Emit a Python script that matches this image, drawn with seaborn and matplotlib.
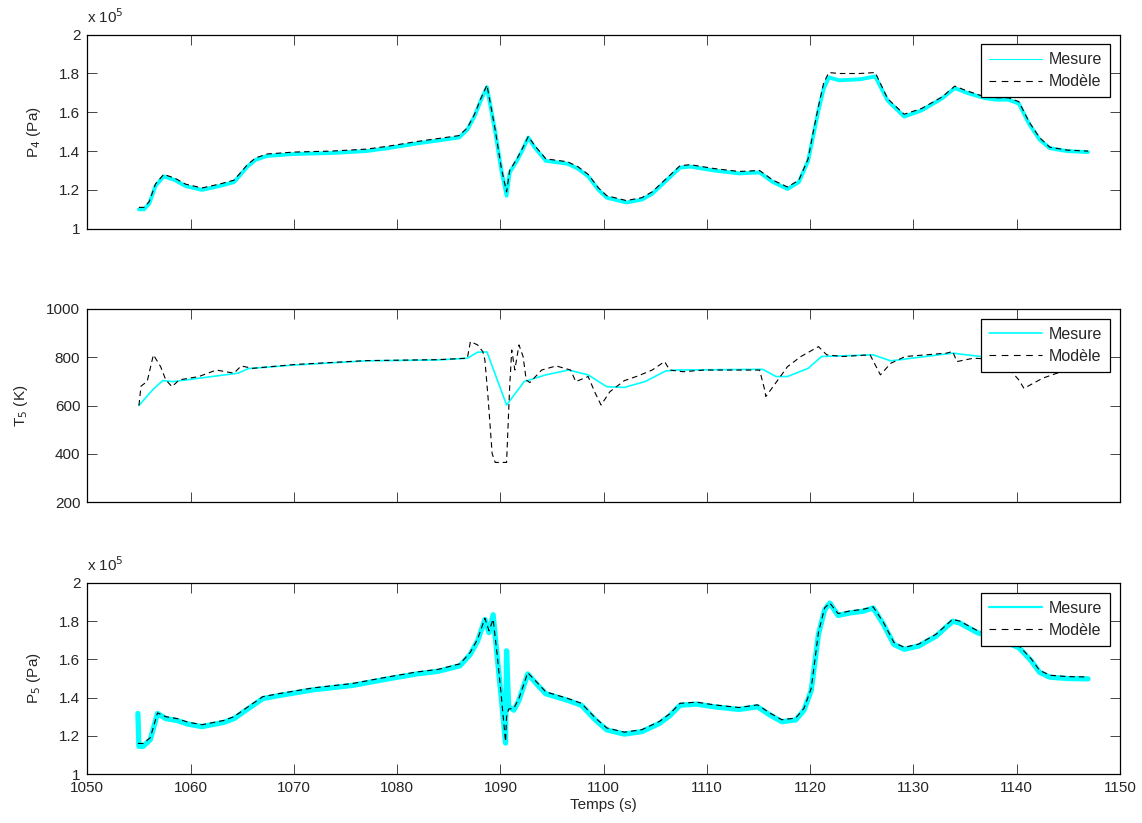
import numpy as np
import pandas as pd
import seaborn as sns
import matplotlib.pyplot as plt
from matplotlib.lines import Line2D
from matplotlib.ticker import FuncFormatter

# ---------------------------------------------------------------------------
# P4 (x 1e5 Pa): measured and model, read off the figure
p4_t = [1055.0, 1055.5, 1056.0, 1056.6, 1057.4, 1058.5, 1059.5, 1061.1, 1062.8, 1064.2, 1064.7,
        1065.5, 1066.3, 1067.4, 1070.0, 1073.6, 1077.0, 1079.1, 1082.0, 1084.0, 1086.0, 1086.8,
        1087.5, 1088.1, 1088.7, 1089.5, 1090.1, 1090.6, 1090.9, 1091.6, 1092.1, 1092.7, 1093.3,
        1094.4, 1096.5, 1097.5, 1098.5, 1099.5, 1100.3, 1102.2, 1103.7, 1104.7, 1106.4, 1107.4,
        1108.4, 1110.7, 1113.1, 1115.1, 1116.4, 1117.8, 1118.9, 1119.8, 1120.3, 1120.8, 1121.3,
        1121.8, 1122.8, 1124.8, 1126.3, 1127.5, 1129.1, 1130.8, 1132.8, 1134.0, 1135.2, 1136.9,
        1138.0, 1139.2, 1140.2, 1141.2, 1142.2, 1143.2, 1144.9, 1146.9]
p4_mesure = [1.10, 1.10, 1.13, 1.22, 1.27, 1.25, 1.22, 1.20, 1.22, 1.24, 1.27,
             1.32, 1.355, 1.375, 1.385, 1.39, 1.40, 1.415, 1.44, 1.455, 1.47, 1.51,
             1.58, 1.66, 1.73, 1.50, 1.30, 1.17, 1.29, 1.35, 1.40, 1.47, 1.42,
             1.35, 1.335, 1.31, 1.27, 1.20, 1.16, 1.135, 1.15, 1.18, 1.265, 1.315,
             1.32, 1.30, 1.285, 1.29, 1.24, 1.205, 1.24, 1.35, 1.48, 1.61, 1.72,
             1.78, 1.765, 1.77, 1.785, 1.66, 1.578, 1.61, 1.673, 1.725, 1.70, 1.673,
             1.665, 1.665, 1.645, 1.54, 1.46, 1.415, 1.40, 1.395]
p4_modele = [1.11, 1.11, 1.14, 1.23, 1.28, 1.26, 1.23, 1.21, 1.23, 1.25, 1.28,
             1.33, 1.365, 1.385, 1.395, 1.40, 1.41, 1.425, 1.45, 1.465, 1.48, 1.52,
             1.59, 1.67, 1.74, 1.51, 1.31, 1.19, 1.30, 1.36, 1.41, 1.475, 1.43,
             1.36, 1.345, 1.32, 1.28, 1.21, 1.17, 1.145, 1.16, 1.19, 1.275, 1.325,
             1.33, 1.31, 1.295, 1.30, 1.25, 1.215, 1.25, 1.36, 1.50, 1.63, 1.75,
             1.805, 1.80, 1.80, 1.805, 1.67, 1.59, 1.62, 1.68, 1.735, 1.71, 1.68,
             1.675, 1.675, 1.655, 1.55, 1.47, 1.42, 1.405, 1.40]

# T5 (K): measured
t5_t_mes = [1055.0, 1056.3, 1057.3, 1058.3, 1060.8, 1064.6, 1065.6, 1070.1, 1077.0, 1084.0,
            1086.8, 1087.8, 1088.7, 1090.6, 1092.3, 1094.4, 1096.6, 1098.5, 1100.3, 1102.0,
            1104.0, 1106.0, 1107.0, 1115.4, 1116.7, 1117.8, 1119.8, 1121.1, 1126.1, 1127.8,
            1129.8, 1133.8, 1136.5, 1140.0, 1143.0, 1147.0]
t5_mesure = [600, 664, 703, 699, 713, 734, 753, 768, 785, 789,
             796, 821, 822, 602, 699, 727, 747, 727, 678, 675,
             699, 743, 747, 750, 720, 720, 754, 803, 810, 785,
             796, 817, 803, 800, 798, 795]

# T5 (K): model
t5_t_mod = [1055.0, 1055.2, 1055.8, 1056.4, 1057.1, 1057.6, 1058.2, 1058.9, 1060.8, 1062.5,
            1064.2, 1064.9, 1066.0, 1070.1, 1077.0, 1084.0, 1086.8, 1087.1, 1087.8, 1088.3,
            1088.5, 1088.8, 1089.2, 1089.5, 1090.6, 1090.7, 1090.9, 1091.1, 1091.4, 1091.8,
            1092.2, 1092.5, 1092.85, 1094.0, 1095.4, 1096.8, 1097.3, 1098.5, 1099.2, 1099.75,
            1100.6, 1102.0, 1103.35, 1104.7, 1105.9, 1106.4, 1107.7, 1109.7, 1115.1, 1115.6,
            1115.7, 1116.4, 1117.8, 1119.1, 1120.8, 1121.6, 1123.1, 1125.8, 1126.3, 1126.8,
            1127.8, 1129.2, 1133.2, 1133.8, 1134.2, 1135.8, 1138.5, 1140.2, 1140.7, 1142.5,
            1143.9, 1147.0]
t5_modele = [600, 680, 700, 810, 761, 706, 678, 706, 720, 747,
             734, 764, 754, 770, 786, 790, 796, 865, 851, 823,
             789, 637, 401, 364, 364, 471, 678, 830, 747, 851,
             803, 706, 695, 747, 764, 747, 699, 720, 650, 602,
             657, 703, 723, 747, 782, 747, 740, 747, 747, 664,
             637, 678, 761, 803, 844, 810, 803, 810, 768, 727,
             775, 803, 817, 824, 782, 796, 790, 706, 671, 713,
             734, 755]

# P5 (x 1e5 Pa): measured and model
p5_t = [1054.9, 1055.0, 1055.4, 1056.1, 1056.8, 1057.6, 1058.7, 1059.7, 1061.1, 1063.2,
        1064.2, 1065.6, 1067.0, 1068.7, 1071.9, 1075.7, 1079.1, 1081.9, 1084.0, 1086.1,
        1087.1, 1087.8, 1088.5, 1088.9, 1089.3, 1089.7, 1090.05, 1090.5, 1090.6, 1090.8,
        1091.3, 1091.8, 1092.65, 1093.5, 1094.4, 1096.5, 1097.85, 1099.2, 1100.3, 1102.0,
        1103.7, 1105.4, 1106.4, 1107.4, 1109.0, 1110.7, 1113.1, 1114.9, 1116.1, 1117.25,
        1118.6, 1119.4, 1120.1, 1120.8, 1121.4, 1121.9, 1122.7, 1123.8, 1125.1, 1126.1,
        1127.1, 1128.1, 1129.1, 1130.5, 1132.2, 1133.8, 1134.5, 1136.2, 1138.0, 1140.2,
        1141.4, 1142.2, 1143.2, 1144.9, 1146.9]
p5_mesure = [1.317, 1.145, 1.145, 1.18, 1.317, 1.29, 1.28, 1.262, 1.248, 1.27,
             1.29, 1.343, 1.395, 1.412, 1.441, 1.464, 1.498, 1.524, 1.538, 1.567,
             1.628, 1.697, 1.809, 1.74, 1.834, 1.61, 1.42, 1.162, 1.645, 1.352,
             1.334, 1.386, 1.524, 1.472, 1.42, 1.386, 1.36, 1.283, 1.231, 1.209,
             1.222, 1.265, 1.305, 1.36, 1.366, 1.352, 1.338, 1.352, 1.309, 1.274,
             1.283, 1.334, 1.438, 1.731, 1.86, 1.895, 1.83, 1.843, 1.852, 1.869,
             1.783, 1.679, 1.653, 1.67, 1.722, 1.80, 1.79, 1.74, 1.71, 1.662,
             1.593, 1.533, 1.507, 1.50, 1.498]
p5_modele = [1.16, 1.16, 1.16, 1.19, 1.32, 1.30, 1.29, 1.272, 1.258, 1.28,
             1.30, 1.353, 1.405, 1.422, 1.451, 1.474, 1.508, 1.534, 1.548, 1.577,
             1.638, 1.707, 1.815, 1.75, 1.81, 1.62, 1.43, 1.17, 1.30, 1.34,
             1.344, 1.396, 1.53, 1.482, 1.43, 1.396, 1.37, 1.293, 1.241, 1.219,
             1.232, 1.275, 1.315, 1.37, 1.376, 1.362, 1.348, 1.362, 1.319, 1.284,
             1.293, 1.344, 1.448, 1.741, 1.87, 1.895, 1.84, 1.853, 1.862, 1.875,
             1.793, 1.689, 1.663, 1.68, 1.732, 1.81, 1.80, 1.75, 1.72, 1.672,
             1.603, 1.543, 1.517, 1.51, 1.508]

# ---------------------------------------------------------------------------
sns.set_style('ticks')
plt.rcParams['font.family'] = ['Liberation Sans', 'DejaVu Sans']
plt.rcParams['font.size'] = 11
plt.rcParams['axes.linewidth'] = 0.9

fig = plt.figure(figsize=(11.42, 8.23), dpi=100)
left, width = 87.3 / 1142, (1120 - 87.3) / 1142
ax1 = fig.add_axes([left, 1 - 228.7 / 823, width, 194 / 823])
ax2 = fig.add_axes([left, 1 - 502 / 823, width, 193 / 823])
ax3 = fig.add_axes([left, 1 - 774 / 823, width, 191 / 823])

cyan = '#00ffff'
dash = (5, 3.5)

sns.lineplot(x=p4_t, y=p4_mesure, ax=ax1, color=cyan, lw=2.8, sort=False)
sns.lineplot(x=p4_t, y=p4_modele, ax=ax1, color='black', lw=0.8, sort=False)
ax1.lines[-1].set_dashes(dash)

sns.lineplot(x=t5_t_mes, y=t5_mesure, ax=ax2, color=cyan, lw=1.2, sort=False)
sns.lineplot(x=t5_t_mod, y=t5_modele, ax=ax2, color='black', lw=0.8, sort=False)
ax2.lines[-1].set_dashes(dash)

sns.lineplot(x=p5_t, y=p5_mesure, ax=ax3, color=cyan, lw=3.8, sort=False)
sns.lineplot(x=p5_t, y=p5_modele, ax=ax3, color='black', lw=0.8, sort=False)
ax3.lines[-1].set_dashes(dash)

fmt = FuncFormatter(lambda v, p: '%g' % v)
for ax, ylim, yticks, ylabel, leg_lw in [
        (ax1, (1, 2), np.arange(1, 2.01, 0.2), 'P$_4$ (Pa)', 0.8),
        (ax2, (200, 1000), np.arange(200, 1001, 200), 'T$_5$ (K)', 1.2),
        (ax3, (1, 2), np.arange(1, 2.01, 0.2), 'P$_5$ (Pa)', 1.6)]:
    ax.set_xlim(1050, 1150)
    ax.set_ylim(*ylim)
    ax.set_xticks(np.arange(1050, 1151, 10))
    ax.set_yticks(yticks)
    ax.yaxis.set_major_formatter(fmt)
    ax.tick_params(direction='in', length=7, width=0.6, top=True, right=True,
                   labelsize=11, pad=5)
    ax.set_ylabel(ylabel, fontsize=11, labelpad=12)
    for s in ax.spines.values():
        s.set_visible(True)
        s.set_color('black')
    handles = [Line2D([], [], color=cyan, lw=leg_lw),
               Line2D([], [], color='black', lw=0.8, dashes=(6, 5))]
    leg = ax.legend(handles, ['Mesure', 'Modèle'], loc='upper right', fancybox=False,
                    framealpha=1, edgecolor='black', fontsize=11.5, borderaxespad=0.6,
                    handlelength=3.3, handletextpad=0.45, labelspacing=0.45,
                    borderpad=0.5)
    leg.get_frame().set_linewidth(0.9)

ax1.tick_params(labelbottom=False)
ax2.tick_params(labelbottom=False)
ax3.set_xlabel('Temps (s)', fontsize=11, labelpad=2)

for ax in (ax1, ax3):
    ax.text(0.0, 1.045, r'x 10$^{5}$', transform=ax.transAxes, fontsize=11,
            ha='left', va='bottom')

fig.savefig('out.png', dpi=100)
